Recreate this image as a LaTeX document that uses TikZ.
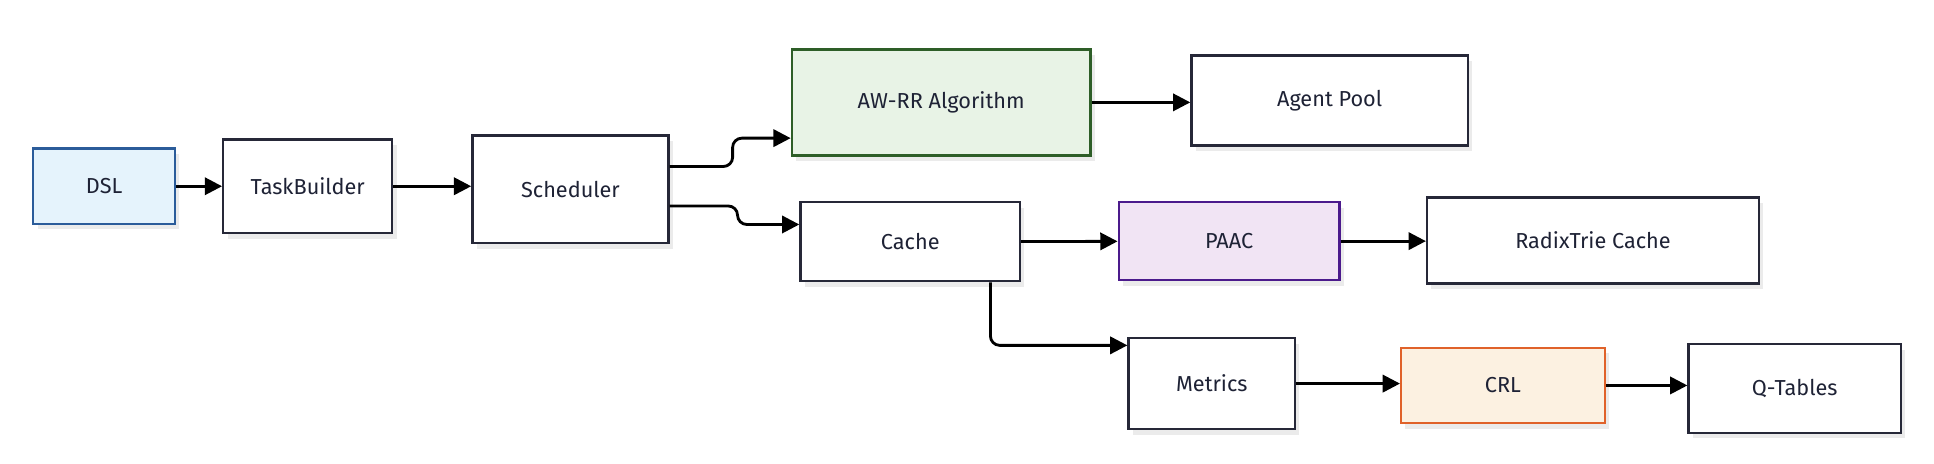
\documentclass[tikz,border=0pt]{standalone}
\usepackage{fontspec}
\setmainfont{Fira Sans}
\usetikzlibrary{positioning,calc,arrows.meta,shadows}

\definecolor{ink}{HTML}{1E2235}
\definecolor{boxline}{HTML}{262838}
\definecolor{dslfill}{HTML}{E5F3FC}
\definecolor{dslline}{HTML}{2B5C9A}
\definecolor{awfill}{HTML}{E8F3E6}
\definecolor{awline}{HTML}{2E5E28}
\definecolor{paacfill}{HTML}{F1E4F4}
\definecolor{paacline}{HTML}{4B1A8C}
\definecolor{crlfill}{HTML}{FCF1E1}
\definecolor{crlline}{HTML}{E0622A}

\begin{document}
\begin{tikzpicture}
	\begin{scope}[x=0.2mm, y=-0.2mm]
		\tikzstyle{every node}=[align=center, inner sep=1pt, text=ink, font=\fontsize{10}{12}\selectfont]
		\tikzstyle{box}=[draw=boxline, fill=white, line width=1.1pt,
			drop shadow={shadow xshift=0.7mm, shadow yshift=-0.9mm, fill=black!8, opacity=1}]
		\tikzstyle{arr}=[black, line width=1.3pt, -{Triangle[length=2.8mm, width=2.8mm]}]
		\useasboundingbox (0,0) rectangle (1568,376);

		\node[box, fill=dslfill, draw=dslline, minimum width=23mm, minimum height=12.2mm] (dsl) at (84.5, 151) {DSL};
		\node[box, minimum width=27.4mm, minimum height=15.2mm] (tb)    at (249.5, 151)   {TaskBuilder};
		\node[box, minimum width=31.8mm, minimum height=17.4mm] (sched) at (462.5, 153.5) {Scheduler};

		\node[box, fill=awfill, draw=awline, minimum width=48.4mm, minimum height=17.2mm] (awrr) at (763, 83) {AW-RR Algorithm};
		\node[box, minimum width=44.8mm, minimum height=14.6mm] (pool) at (1078, 81.5) {Agent Pool};

		\node[box, minimum width=35.6mm, minimum height=12.8mm] (cache) at (738, 196) {Cache};
		\node[box, fill=paacfill, draw=paacline, minimum width=35.8mm, minimum height=12.6mm] (paac) at (996.5, 195.5) {PAAC};
		\node[box, minimum width=53.8mm, minimum height=14mm] (radix) at (1291.5, 195) {RadixTrie Cache};

		\node[box, minimum width=27mm, minimum height=14.8mm] (metrics) at (982.5, 311) {Metrics};
		\node[box, fill=crlfill, draw=crlline, minimum width=33mm, minimum height=12.2mm] (crl) at (1218.5, 312.5) {CRL};
		\node[box, minimum width=34.4mm, minimum height=14.4mm] (qt) at (1455, 315) {Q-Tables};

		\draw [arr] (dsl) to (tb);
		\draw [arr] (tb.east) to (tb.east -| sched.west);

		\draw [arr, rounded corners=1.5mm] ([yshift=3.7mm]sched.east) -- ++(10.2mm,0) |- ([yshift=-5.8mm]awrr.west);
		\draw [arr, rounded corners=1.5mm] ([yshift=-2.7mm]sched.east) -- ++(11mm,0) |- ([yshift=2.8mm]cache.west);

		\draw [arr] (awrr.east) to (awrr.east -| pool.west);
		\draw [arr] (cache) to (paac);
		\draw [arr] (paac) to (paac.east -| radix.west);

		\draw [arr, rounded corners=1.5mm] ([xshift=13mm]cache.south) |- ([yshift=6.2mm]metrics.west);
		\draw [arr] (metrics.east) to (metrics.east -| crl.west);
		\draw [arr] (crl.east) to (crl.east -| qt.west);
	\end{scope}
\end{tikzpicture}
\end{document}
